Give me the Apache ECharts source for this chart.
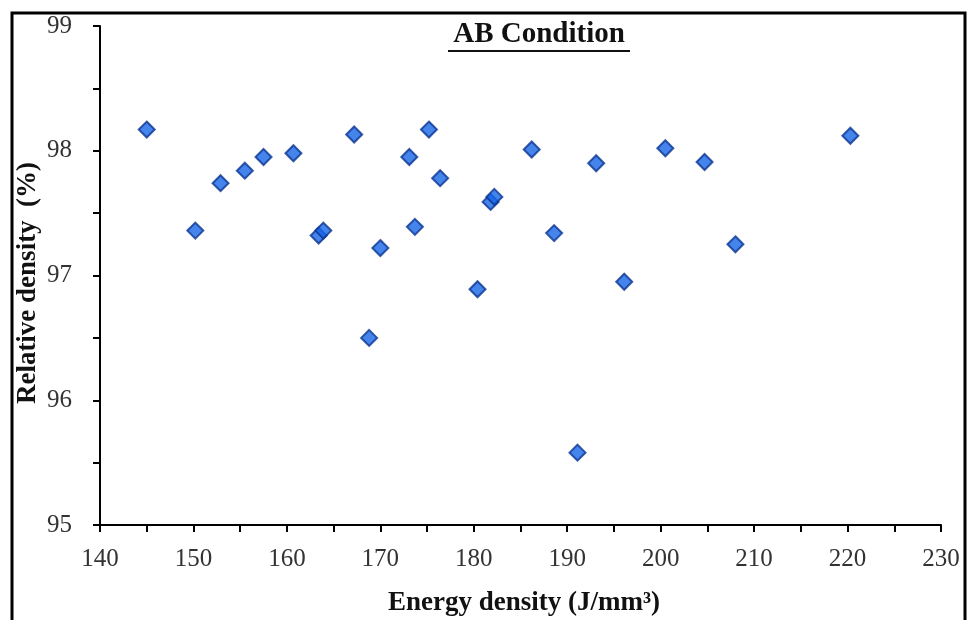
<!DOCTYPE html>
<html>
<head>
<meta charset="utf-8">
<script src="https://cdn.jsdelivr.net/npm/echarts@6/dist/echarts.min.js"></script>
<style>
html,body{margin:0;padding:0;background:#fff;}
#main{width:971px;height:620px;}
</style>
</head>
<body>
<div id="main"></div>
<script>
// 能量密度 (J/mm3)
var energy = [145.0, 150.2, 152.9, 155.5, 157.5, 160.7, 163.4, 163.9, 167.2, 170.0,
	173.1, 173.7, 175.2, 176.4, 180.4, 181.8, 182.2, 186.2, 188.6, 193.1,
	196.1, 200.5, 204.7, 208.0, 220.3, 168.8, 191.1];
// 相对密度 (%)
var density = [98.17, 97.36, 97.74, 97.84, 97.95, 97.98, 97.32, 97.36, 98.13, 97.22,
	97.95, 97.39, 98.17, 97.78, 96.89, 97.59, 97.63, 98.01, 97.34, 97.90,
	96.95, 98.02, 97.91, 97.25, 98.12, 96.50, 95.58];

var points = [];
for (var i = 0; i < energy.length; i++) {
	points.push([energy[i], density[i]]);
}

var font = '"Liberation Serif", "Times New Roman", serif';

var myChart = echarts.init(document.getElementById('main'));
var option = {
	animation: false,
	backgroundColor: '#fff',
	grid: {
		left: 100,
		right: 30,
		top: 26,
		bottom: 95
	},
	xAxis: {
		type: 'value',
		min: 140,
		max: 230,
		interval: 5,
		splitLine: {show: false},
		axisLine: {lineStyle: {color: '#000', width: 2}},
		axisTick: {show: true, length: 7, lineStyle: {color: '#000', width: 2}},
		axisLabel: {
			margin: 22,
			fontFamily: font,
			fontSize: 25,
			color: '#333',
			formatter: function (v) {
				return v % 10 === 0 ? String(v) : '';
			}
		}
	},
	yAxis: {
		type: 'value',
		min: 95,
		max: 99,
		interval: 0.5,
		splitLine: {show: false},
		axisLine: {lineStyle: {color: '#000', width: 2}},
		axisTick: {show: true, length: 7, lineStyle: {color: '#000', width: 2}},
		axisLabel: {
			margin: 28,
			fontFamily: font,
			fontSize: 25,
			color: '#333',
			formatter: function (v) {
				return v % 1 === 0 ? String(v) : '';
			}
		}
	},
	series: [
		{
			type: 'scatter',
			symbol: 'diamond',
			symbolSize: [16, 16],
			itemStyle: {
				color: '#1565e6',
				borderColor: '#0b3592',
				borderWidth: 2
			},
			data: points
		}
	],
	graphic: [
		// 外框
		{
			type: 'rect',
			shape: {x: 12, y: 13, width: 953, height: 700},
			style: {fill: 'none', stroke: '#000', lineWidth: 3},
			silent: true
		},
		{
			type: 'text',
			x: 539,
			y: 35,
			style: {
				text: 'AB Condition',
				font: 'bold 29px ' + font,
				fill: '#111',
				align: 'center',
				verticalAlign: 'middle'
			}
		},
		{
			type: 'line',
			shape: {x1: 448, y1: 51, x2: 630, y2: 51},
			style: {stroke: '#111', lineWidth: 2}
		},
		{
			type: 'text',
			x: 28,
			y: 283,
			rotation: Math.PI / 2,
			style: {
				text: 'Relative density  (%)',
				font: 'bold 27px ' + font,
				fill: '#111',
				align: 'center',
				verticalAlign: 'middle'
			}
		},
		{
			type: 'text',
			x: 524,
			y: 603,
			style: {
				text: 'Energy density (J/mm³)',
				font: 'bold 27px ' + font,
				fill: '#111',
				align: 'center',
				verticalAlign: 'middle'
			}
		}
	]
};
myChart.setOption(option);
</script>
</body>
</html>
